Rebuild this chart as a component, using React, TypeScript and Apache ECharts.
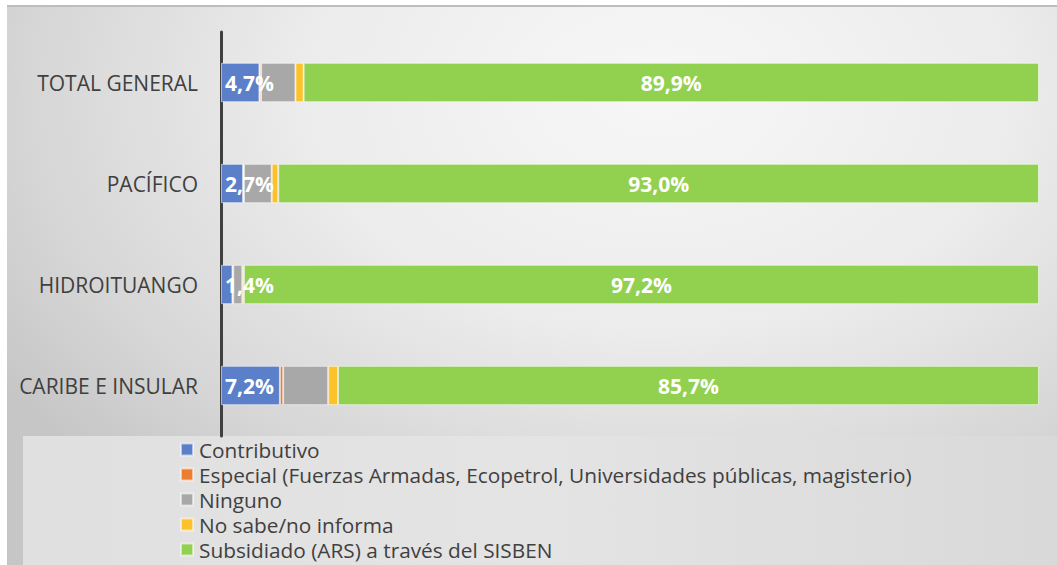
import React, { useEffect, useRef } from "react";
import * as echarts from "echarts";

const categories = ["TOTAL GENERAL", "PACÍFICO", "HIDROITUANGO", "CARIBE E INSULAR"];
const seriesNames = [
  "Contributivo",
  "Especial (Fuerzas Armadas, Ecopetrol, Universidades públicas, magisterio)",
  "Ninguno",
  "No sabe/no informa",
  "Subsidiado (ARS) a través del SISBEN",
];
const contributivo = [4.7, 2.7, 1.4, 7.2];
const especial = [0.2, 0.1, 0.1, 0.4];
const ninguno = [4.2, 3.4, 1.1, 5.5];
const noSabe = [1.0, 0.8, 0.2, 1.2];
const subsidiado = [89.9, 93.0, 97.2, 85.7];
const colors = ["#5b80c9", "#ed7d31", "#a8a8a8", "#fdc12a", "#92d050"];

const FONT = "'Open Sans', 'Noto Sans', sans-serif";

export default function App() {
  const ref = useRef<HTMLDivElement>(null);
  useEffect(() => {
    document.body.style.margin = "0";
    const chart = echarts.init(ref.current!, undefined, { renderer: "svg" });
    const dataSets = [contributivo, especial, ninguno, noSabe, subsidiado];
    const fmt = (p: any) => Number(p.value).toFixed(1).replace(".", ",") + "%";
    const series = dataSets.map((d, i) => ({
      name: seriesNames[i],
      type: "bar",
      stack: "total",
      barWidth: "39%",
      data: d,
      itemStyle: { color: colors[i], borderColor: "rgba(255,255,255,0.55)", borderWidth: 1 },
      label:
        i === 0
          ? { show: true, position: "insideLeft", distance: 4, formatter: fmt, color: "#fff", fontWeight: "bold", fontSize: 21, fontFamily: FONT }
          : i === 4
          ? { show: true, position: "inside", formatter: fmt, color: "#fff", fontWeight: "bold", fontSize: 21, fontFamily: FONT }
          : { show: false },
      labelLayout: { hideOverlap: false },
      z: i === 0 ? 5 : 2,
    }));
    chart.setOption({
      animation: false,
      backgroundColor: "transparent",
      grid: { left: 221, right: 18, top: 32, bottom: 129, containLabel: false },
      xAxis: { type: "value", min: 0, max: 100, show: false },
      yAxis: {
        type: "category",
        data: categories,
        inverse: true,
        axisLine: { show: true, lineStyle: { color: "#404040", width: 3 } },
        axisTick: { show: false },
        axisLabel: { color: "#404040", fontSize: 21, fontFamily: FONT, margin: 23 },
      },
      legend: {
        orient: "vertical",
        left: 180,
        top: 438,
        padding: 0,
        itemWidth: 12,
        itemHeight: 12,
        itemGap: 2,
        icon: "rect",
        data: seriesNames,
        textStyle: { color: "#404040", fontSize: 20.8, fontFamily: FONT, lineHeight: 23, padding: [0, 0, 0, 1] },
        selectedMode: false,
      },
      series,
    });
    return () => chart.dispose();
  }, []);
  return (
    <div style={{ position: "fixed", left: 0, top: 0, width: 1057, height: 565, background: "#fff", overflow: "hidden" }}>
      <div
        style={{
          position: "absolute",
          left: 7,
          top: 5,
          right: 0,
          bottom: 0,
          borderTop: "2px solid #bdbdbd",
          background: "radial-gradient(ellipse 75% 95% at 62% 15%, #f7f7f7 0%, #ececec 45%, #d6d6d6 80%, #c6c6c6 100%)",
        }}
      />
      <div
        style={{
          position: "absolute",
          left: 23,
          top: 436,
          right: 0,
          bottom: 0,
          background: "linear-gradient(90deg, #e0e0e0 0%, #e4e4e4 50%, #d9d9d9 100%)",
        }}
      />
      <div ref={ref} style={{ position: "absolute", left: 0, top: 0, width: 1057, height: 565 }} />
    </div>
  );
}
